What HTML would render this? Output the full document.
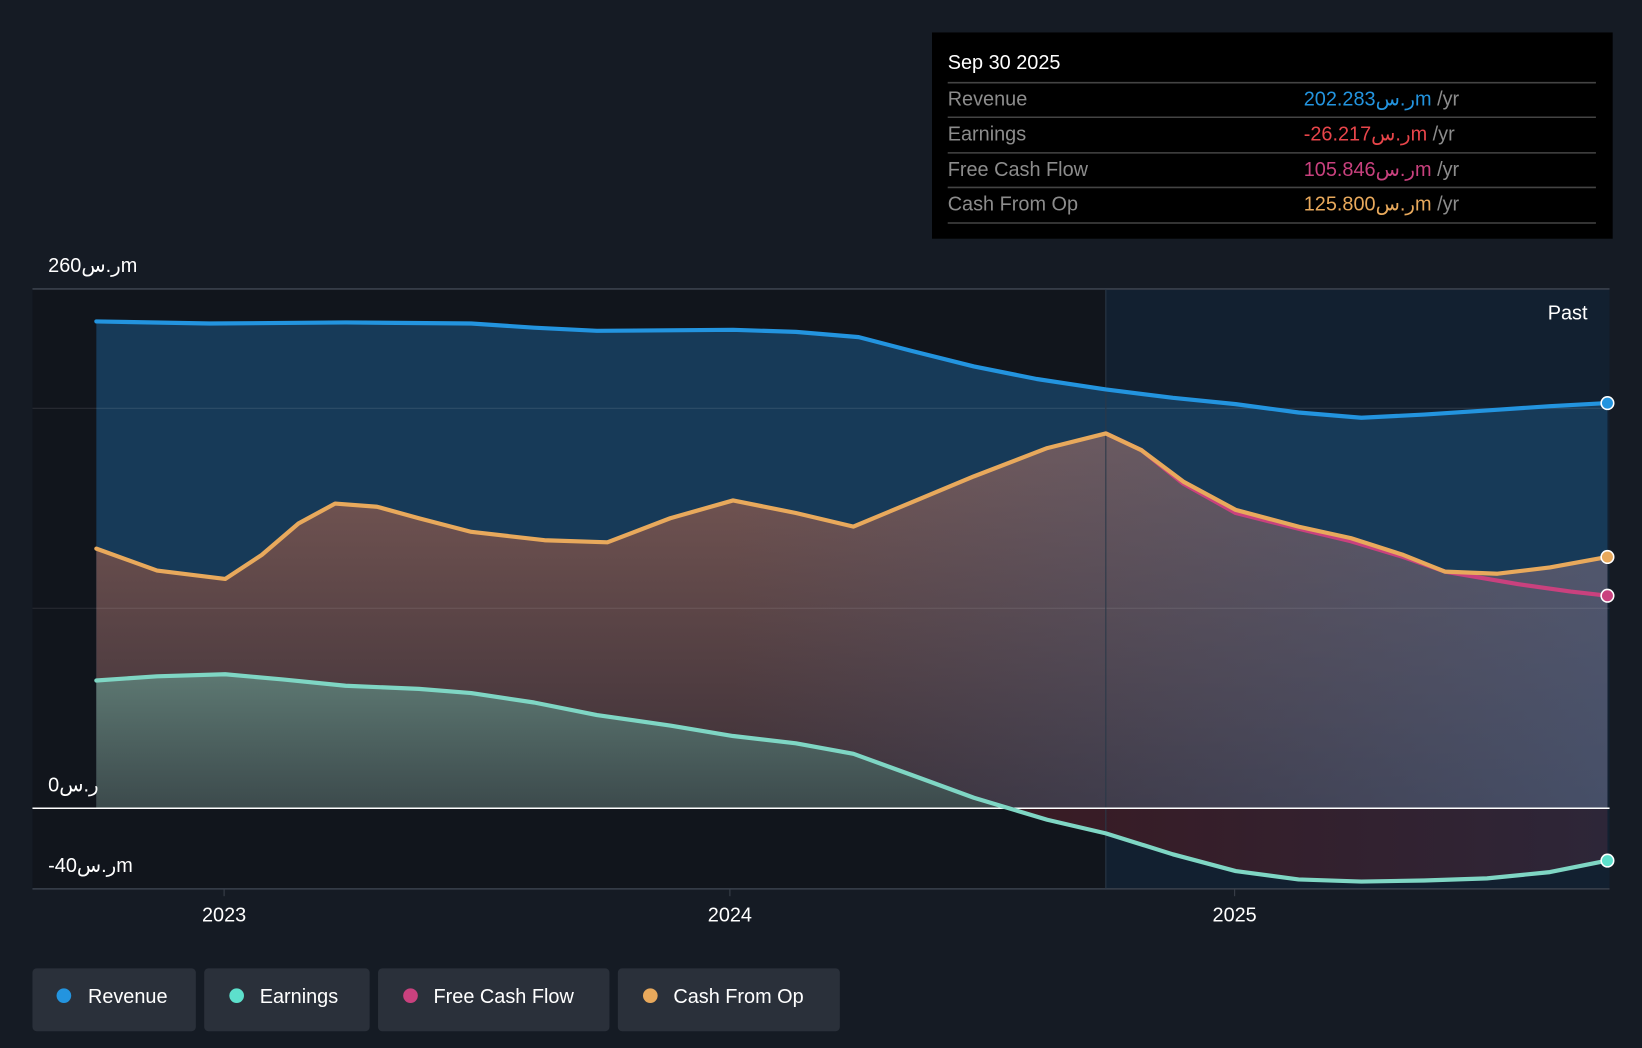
<!DOCTYPE html>
<html><head><meta charset="utf-8"><style>
html,body{margin:0;padding:0;background:#151b24;}
svg{display:block}
text{font-family:"Liberation Sans","DejaVu Sans",sans-serif}
</style></head><body>
<svg width="1642" height="1048" viewBox="0 0 1568 1001" preserveAspectRatio="none" xmlns="http://www.w3.org/2000/svg">
<defs>
<linearGradient id="cfo" x1="0" y1="0" x2="0" y2="1">
<stop offset="0" stop-color="#7a5a56"/><stop offset="1" stop-color="#3a2e36"/></linearGradient>
<linearGradient id="cfoH" gradientUnits="userSpaceOnUse" x1="700" y1="0" x2="1535" y2="0">
<stop offset="0" stop-color="#4a5a78" stop-opacity="0"/><stop offset="1" stop-color="#4a5a78" stop-opacity="0.75"/></linearGradient>
<linearGradient id="earn" x1="0" y1="0" x2="0" y2="1">
<stop offset="0" stop-color="#5d7872"/><stop offset="1" stop-color="#3c4a4c"/></linearGradient>
<linearGradient id="neg" gradientUnits="userSpaceOnUse" x1="930" y1="0" x2="1535" y2="0">
<stop offset="0" stop-color="#3a1a22"/><stop offset="1" stop-color="#2d2638"/></linearGradient>
</defs>
<rect width="1568" height="1001" fill="#151b24"/>
<rect x="31" y="276" width="1025" height="573" fill="#11151c"/>
<rect x="1056" y="276" width="481" height="573" fill="#122030"/>
<!-- revenue fill -->
<polygon fill="#173a58" points="92,307 200,309 330,308 450,309 510,313 570,316 700,315 760,317 820,322 870,335 930,350 990,362 1056,372 1120,380 1180,386 1240,394 1300,399 1360,396 1420,392 1480,388 1535,385 1535,772 92,772"/>
<!-- cfo fill -->
<g>
<polygon id="cf" fill="url(#cfo)" points="92,524 150,545 215,553 250,530 285,500 320,481 360,484 400,495 450,508 520,516 580,518 640,495 700,478 760,490 815,503 870,480 930,455 1000,428 1056,414 1090,430 1130,460 1180,487 1240,503 1290,514 1340,530 1380,546 1430,548 1480,542 1535,532 1535,772 92,772"/>
<polygon fill="url(#cfoH)" points="92,524 150,545 215,553 250,530 285,500 320,481 360,484 400,495 450,508 520,516 580,518 640,495 700,478 760,490 815,503 870,480 930,455 1000,428 1056,414 1090,430 1130,460 1180,487 1240,503 1290,514 1340,530 1380,546 1430,548 1480,542 1535,532 1535,772 92,772"/>
</g>
<!-- earnings fill -->
<polygon fill="url(#earn)" points="92,650 150,646 215,644 270,649 330,655 400,658 450,662 510,671 570,683 640,693 700,703 760,710 815,720 870,740 930,762 960,772 92,772"/>
<polygon fill="url(#neg)" points="960,772 1000,783 1056,796 1120,816 1180,832 1240,840 1300,842 1360,841 1420,839 1480,833 1535,822 1535,772"/>
<!-- grid -->
<line x1="31" y1="276" x2="1537" y2="276" stroke="#3a414c" stroke-width="1.5"/>
<line x1="31" y1="390" x2="1537" y2="390" stroke="#ffffff" stroke-opacity="0.1"/>
<line x1="31" y1="581" x2="1537" y2="581" stroke="#ffffff" stroke-opacity="0.1"/>
<line x1="31" y1="849" x2="1537" y2="849" stroke="#3a414c" stroke-width="1.5"/>
<line x1="1056" y1="276" x2="1056" y2="849" stroke="#2a3848"/>
<line x1="31" y1="772" x2="1537" y2="772" stroke="#ffffff" stroke-width="1.5"/>
<!-- lines -->
<g fill="none" stroke-width="4" stroke-linejoin="round" stroke-linecap="round">
<polyline stroke="#2394df" points="92,307 200,309 330,308 450,309 510,313 570,316 700,315 760,317 820,322 870,335 930,350 990,362 1056,372 1120,380 1180,386 1240,394 1300,399 1360,396 1420,392 1480,388 1535,385"/>
<polyline stroke="#c9417e" points="1056,414 1090,430 1130,462 1180,490 1240,505 1290,517 1340,532 1380,546 1450,558 1500,565 1535,569"/>
<polyline stroke="#e8a95c" points="92,524 150,545 215,553 250,530 285,500 320,481 360,484 400,495 450,508 520,516 580,518 640,495 700,478 760,490 815,503 870,480 930,455 1000,428 1056,414 1090,430 1130,460 1180,487 1240,503 1290,514 1340,530 1380,546 1430,548 1480,542 1535,532"/>
<polyline stroke="#7fd6c4" points="92,650 150,646 215,644 270,649 330,655 400,658 450,662 510,671 570,683 640,693 700,703 760,710 815,720 870,740 930,762 1000,783 1056,796 1120,816 1180,832 1240,840 1300,842 1360,841 1420,839 1480,833 1535,822"/>
</g>
<g stroke="#fff" stroke-width="1.5">
<circle cx="1535" cy="385" r="6" fill="#2394df"/>
<circle cx="1535" cy="532" r="6" fill="#e8a95c"/>
<circle cx="1535" cy="569" r="6" fill="#c9417e"/>
<circle cx="1535" cy="822" r="6" fill="#5de0cc"/>
</g>
<!-- axis labels -->
<g fill="#fff" font-size="19">
<text x="46" y="260">260ر.سm</text>
<text x="46" y="756">0ر.س</text>
<text x="46" y="833">-40ر.سm</text>
<text x="1478" y="305">Past</text>
<text x="214" y="880" text-anchor="middle">2023</text>
<text x="697" y="880" text-anchor="middle">2024</text>
<text x="1179" y="880" text-anchor="middle">2025</text>
</g>
<g stroke="#3a414c"><line x1="214" y1="849" x2="214" y2="856"/><line x1="697" y1="849" x2="697" y2="856"/><line x1="1179" y1="849" x2="1179" y2="856"/></g>
<!-- tooltip -->
<rect x="890" y="31" width="650" height="197" fill="#000"/>
<text x="905" y="66" fill="#fff" font-size="19">Sep 30 2025</text>
<g stroke="#444" stroke-width="1.5">
<line x1="905" y1="79" x2="1524" y2="79"/><line x1="905" y1="112" x2="1524" y2="112"/>
<line x1="905" y1="146" x2="1524" y2="146"/><line x1="905" y1="179" x2="1524" y2="179"/>
<line x1="905" y1="213" x2="1524" y2="213"/></g>
<g font-size="19" fill="#8c8c8c">
<text x="905" y="101">Revenue</text><text x="905" y="134">Earnings</text>
<text x="905" y="168">Free Cash Flow</text><text x="905" y="201">Cash From Op</text></g>
<g font-size="19">
<text x="1245" y="101" fill="#2394df">202.283ر.سm <tspan fill="#8c8c8c">/yr</tspan></text>
<text x="1245" y="134" fill="#e8454a">-26.217ر.سm <tspan fill="#8c8c8c">/yr</tspan></text>
<text x="1245" y="168" fill="#c9417e">105.846ر.سm <tspan fill="#8c8c8c">/yr</tspan></text>
<text x="1245" y="201" fill="#e8a95c">125.800ر.سm <tspan fill="#8c8c8c">/yr</tspan></text>
</g>
<!-- legend -->
<g font-size="19" fill="#fff">
<rect x="31" y="925" width="156" height="60" rx="4" fill="#2a303a"/>
<circle cx="61" cy="951" r="7" fill="#2394df"/><text x="84" y="958">Revenue</text>
<rect x="195" y="925" width="158" height="60" rx="4" fill="#2a303a"/>
<circle cx="226" cy="951" r="7" fill="#5de0cc"/><text x="248" y="958">Earnings</text>
<rect x="361" y="925" width="221" height="60" rx="4" fill="#2a303a"/>
<circle cx="392" cy="951" r="7" fill="#c9417e"/><text x="414" y="958">Free Cash Flow</text>
<rect x="590" y="925" width="212" height="60" rx="4" fill="#2a303a"/>
<circle cx="621" cy="951" r="7" fill="#e8a95c"/><text x="643" y="958">Cash From Op</text>
</g>
</svg>
</body></html>
